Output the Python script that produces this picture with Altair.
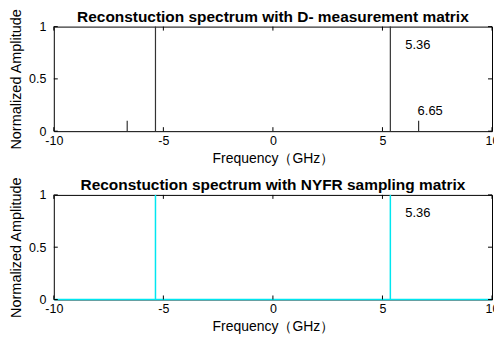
import altair as alt
import pandas as pd

# ---- data ----
x_ticks = [-10, -5, 0, 5, 10]
y_ticks = [0, 0.5, 1]

top_freq = [-6.65, -5.36, 5.36, 6.65]
top_amp = [0.1, 1.0, 1.0, 0.1]
top_peak_label_freq = [5.36]
top_peak_label_amp = [1.0]
top_peak_label_text = ["5.36"]
top_side_label_freq = [6.65]
top_side_label_amp = [0.1]
top_side_label_text = ["6.65"]

bot_freq = [-5.36, 5.36]
bot_amp = [1.0, 1.0]
bot_peak_label_freq = [5.36]
bot_peak_label_amp = [1.0]
bot_peak_label_text = ["5.36"]

titles = [
    "Reconstuction spectrum with D- measurement matrix",
    "Reconstuction spectrum with NYFR sampling matrix",
]
x_title = "Frequency（GHz）"
y_title = "Normalized Amplitude"

FONT = "Liberation Sans"
W, H = 440, 105

xs = alt.Scale(domain=[-10, 10], nice=False, zero=False)
ys = alt.Scale(domain=[0, 1], nice=False)

xaxis = alt.Axis(values=x_ticks, labelExpr="'' + datum.value", tickSize=0, domain=False,
                 grid=False, labelPadding=3, labelFlush=False, labelFontSize=12.5,
                 title=x_title, titlePadding=5, titleFontSize=14, titleFontWeight="normal")
yaxis = alt.Axis(values=y_ticks, labelExpr="'' + datum.value", tickSize=0, domain=False,
                 grid=False, labelPadding=8, labelFontSize=12.5,
                 title=y_title, titlePadding=5, titleFontSize=14.5, titleFontWeight="normal")


def X(field):
    return alt.X(field, type="quantitative", scale=xs, axis=xaxis)


def Y(field):
    return alt.Y(field, type="quantitative", scale=ys, axis=yaxis)


def panel(freqs, amps, color, sw, peak_lbl, side_lbl, title, cyan_base):
    df = pd.DataFrame({"f": freqs, "a": amps})
    layers = []
    if cyan_base:
        base_df = pd.DataFrame({"f": [x_ticks[0]], "f2": [x_ticks[-1]], "a": [0.0]})
        layers.append(alt.Chart(base_df).mark_rule(color=color, strokeWidth=sw).encode(
            x=X("f"), x2="f2", y=Y("a")))
    layers.append(alt.Chart(df).mark_rule(color=color, strokeWidth=sw).encode(
        x=X("f"), y=Y("a"), y2=alt.datum(0)))
    xt = pd.DataFrame({"f": x_ticks})
    yt = pd.DataFrame({"a": y_ticks})
    layers.append(alt.Chart(xt).mark_rule(color="black", strokeWidth=1).encode(
        x=X("f"), y=alt.value(0), y2=alt.value(4)))
    layers.append(alt.Chart(xt).mark_rule(color="black", strokeWidth=1).encode(
        x=X("f"), y=alt.value(H), y2=alt.value(H - 4)))
    layers.append(alt.Chart(yt).mark_rule(color="black", strokeWidth=1).encode(
        y=Y("a"), x=alt.value(0), x2=alt.value(4)))
    layers.append(alt.Chart(yt).mark_rule(color="black", strokeWidth=1).encode(
        y=Y("a"), x=alt.value(W), x2=alt.value(W - 4)))
    if peak_lbl:
        pf, pa, pt = peak_lbl
        layers.append(alt.Chart(pd.DataFrame({"f": pf, "a": pa, "t": pt})).mark_text(
            align="left", baseline="middle", dx=15, dy=18, fontSize=13, font=FONT,
            color="black").encode(x=X("f"), y=Y("a"), text="t:N"))
    if side_lbl:
        sf, sa, st = side_lbl
        layers.append(alt.Chart(pd.DataFrame({"f": sf, "a": sa, "t": st})).mark_text(
            align="left", baseline="middle", dx=-1, dy=-10, fontSize=13, font=FONT,
            color="black").encode(x=X("f"), y=Y("a"), text="t:N"))
    return alt.layer(*layers).properties(
        width=W, height=H,
        title=alt.TitleParams(title, fontSize=15.5, fontWeight="bold", font=FONT,
                              anchor="middle", offset=-17, color="black", frame="group"))


top = panel(top_freq, top_amp, "#333333", 1.2,
            (top_peak_label_freq, top_peak_label_amp, top_peak_label_text),
            (top_side_label_freq, top_side_label_amp, top_side_label_text),
            titles[0], False)
bottom = panel(bot_freq, bot_amp, "#00e6f0", 1.5,
               (bot_peak_label_freq, bot_peak_label_amp, bot_peak_label_text),
               None, titles[1], True)

chart = alt.vconcat(top, bottom, spacing=64, bounds="flush").properties(
    padding={"left": 0, "top": -1, "right": -6, "bottom": 0},
    background="white",
).configure_view(stroke="black", strokeWidth=1).configure_axis(
    labelFont=FONT, titleFont=FONT, labelColor="black", titleColor="black",
).configure_title(font=FONT)

chart.save("out.html", embed_options={"renderer": "svg", "actions": False})
